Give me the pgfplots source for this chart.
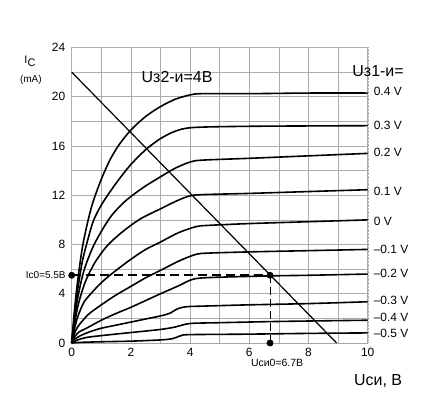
\documentclass[border=0pt]{standalone}
\usepackage{fontspec}
\setmainfont{Liberation Sans}
\usepackage{pgfplots}
\pgfplotsset{compat=1.18}

\begin{document}
\begin{tikzpicture}
\path[use as bounding box] (-71.7bp,-72bp) rectangle (363.3bp,343bp);
\begin{axis}[
    at={(0,0)}, anchor=south west,
    scale only axis,
    width=296bp, height=295.5bp,
    xmin=0, xmax=10, ymin=0, ymax=24,
    xtick={0,2,...,10}, ytick={0,4,...,24},
    minor x tick num=1, minor y tick num=1,
    grid=both,
    major grid style={gray!65, line width=0.5bp},
    minor grid style={gray!65, line width=0.5bp},
    major tick length=0pt, minor tick length=0pt,
    axis line style={gray!60, densely dotted},
    tick label style={font=\fontsize{12}{14}\selectfont},
    xticklabel style={yshift=-2bp},
    yticklabel style={xshift=-3bp},
    /pgf/number format/assume math mode=true,
    clip=false,
    every axis plot/.append style={black, line width=1.6bp},
]
% bottom axis line solid
\addplot[gray!70, line width=1bp] coordinates {(0,0) (10,0)};

% Uz1-i = 0.4 V
\addplot[smooth, tension=0.5] coordinates {(0,0) (0.1,2.8) (0.2,5.0) (0.35,7.6) (0.5,9.4) (0.7,11.3) (1,13.3) (1.3,14.9) (1.6,16.1) (2,17.3) (2.5,18.4) (3,19.2) (3.5,19.8) (4,20.15) (4.4,20.25) (6,20.25) (8,20.3) (10,20.3)};
% 0.3 V
\addplot[smooth, tension=0.5] coordinates {(0,0) (0.1,2.4) (0.2,4.3) (0.35,6.5) (0.5,8.0) (0.73,9.9) (1,11.2) (1.3,12.3) (1.6,13.3) (2,14.5) (2.5,15.7) (3,16.6) (3.5,17.2) (4.1,17.5) (6,17.6) (10,17.65)};
% 0.2 V
\addplot[smooth, tension=0.5] coordinates {(0,0) (0.1,2.0) (0.2,3.6) (0.35,5.3) (0.5,6.5) (0.8,8.2) (1.3,10.2) (1.8,11.5) (2.4,12.6) (3,13.5) (3.5,14.2) (4,14.7) (4.4,14.85) (6,15.0) (8,15.2) (10,15.4)};
% 0.1 V
\addplot[smooth, tension=0.5] coordinates {(0,0) (0.1,1.6) (0.2,2.9) (0.35,4.2) (0.5,5.2) (0.8,6.6) (1.2,7.9) (1.7,9.0) (2.3,10.05) (3,10.9) (3.6,11.6) (4,11.95) (4.4,12.05) (6,12.15) (8,12.3) (10,12.45)};
% 0 V
\addplot[smooth, tension=0.5] coordinates {(0,0) (0.1,1.2) (0.2,2.1) (0.35,3.0) (0.5,3.6) (1,4.9) (1.5,5.9) (2,6.8) (2.5,7.6) (3,8.2) (3.6,8.95) (4.2,9.45) (4.6,9.55) (6,9.7) (8,9.85) (10,10.0)};
% -0.1 V
\addplot[smooth, tension=0.5] coordinates {(0,0) (0.1,0.8) (0.2,1.3) (0.4,1.9) (0.6,2.4) (1,3.1) (1.5,3.9) (2,4.6) (2.5,5.3) (3,5.9) (3.66,6.7) (4.2,7.2) (4.6,7.3) (6,7.4) (8,7.5) (10,7.6)};
% -0.2 V
\addplot[smooth, tension=0.5] coordinates {(0,0) (0.1,0.5) (0.25,0.9) (0.5,1.2) (1,1.85) (1.5,2.4) (2,2.9) (2.5,3.45) (3,4.0) (3.66,4.7) (4,5.1) (4.5,5.3) (6.7,5.45) (8,5.5) (10,5.6)};
% -0.3 V
\addplot[smooth, tension=0.5] coordinates {(0,0) (0.1,0.3) (0.3,0.6) (0.6,0.9) (1,1.2) (1.5,1.45) (2,1.7) (2.5,1.95) (3,2.2) (3.3,2.4) (3.6,2.8) (3.9,2.95) (4.5,3.0) (6,3.1) (8,3.2) (10,3.35)};
% -0.4 V
\addplot[smooth, tension=0.5] coordinates {(0,0) (0.2,0.25) (0.5,0.45) (1,0.6) (2,0.85) (3,1.1) (3.5,1.3) (3.8,1.5) (4.1,1.6) (5,1.65) (7,1.75) (10,1.85)};
% -0.5 V
\addplot[smooth, tension=0.5] coordinates {(0,0) (0.3,0.05) (1,0.1) (2,0.15) (3,0.25) (3.4,0.35) (3.7,0.6) (4.0,0.68) (6,0.72) (8,0.78) (10,0.82)};

% load line
\addplot[line width=1.2bp] coordinates {(0,22) (8.95,0)};

% operating point
\addplot[line width=1.6bp, dash pattern=on 9bp off 5bp] coordinates {(0,5.5) (6.7,5.5)};
\addplot[line width=0.8bp, dash pattern=on 8bp off 4bp] coordinates {(6.7,5.5) (6.7,0)};
\addplot[only marks, mark=*, mark size=2.6bp] coordinates {(0,5.5) (6.7,5.5) (6.7,0)};

% texts
\node[font=\fontsize{16}{18}\selectfont] at (axis cs:3.56,21.6) {Uз2-и=4В};
\node[font=\fontsize{16}{18}\selectfont] at (axis cs:10.35,22.1) {Uз1-и=};
\node[font=\fontsize{16}{18}\selectfont] at (axis cs:10.35,-3.09) {Uси, В};
\node[font=\fontsize{11}{12}\selectfont] at (axis cs:-1.41,22.85) {I\raisebox{-3bp}{C}};
\node[font=\fontsize{10}{12}\selectfont] at (axis cs:-1.38,21.4) {(mA)};
\node[anchor=east, inner sep=0pt, font=\fontsize{10}{12}\selectfont] at (axis cs:-0.2,5.5) {Ic0=5.5В};
\node[font=\fontsize{10.5}{12}\selectfont] at (axis cs:6.94,-1.63) {Uси0=6.7В};

\foreach \lab/\yy in {0.4 V/20.4, 0.3 V/17.66, 0.2 V/15.5, 0.1 V/12.34, 0 V/9.9, –0.1 V/7.58, –0.2 V/5.65, –0.3 V/3.47, –0.4 V/2.1, –0.5 V/0.8} {
  \edef\tmp{\noexpand\node[anchor=west, inner sep=0pt, font=\noexpand\fontsize{12}{14}\noexpand\selectfont] at (axis cs:10.2,\yy) {\lab};}
  \tmp
}
\end{axis}
\end{tikzpicture}
\end{document}
